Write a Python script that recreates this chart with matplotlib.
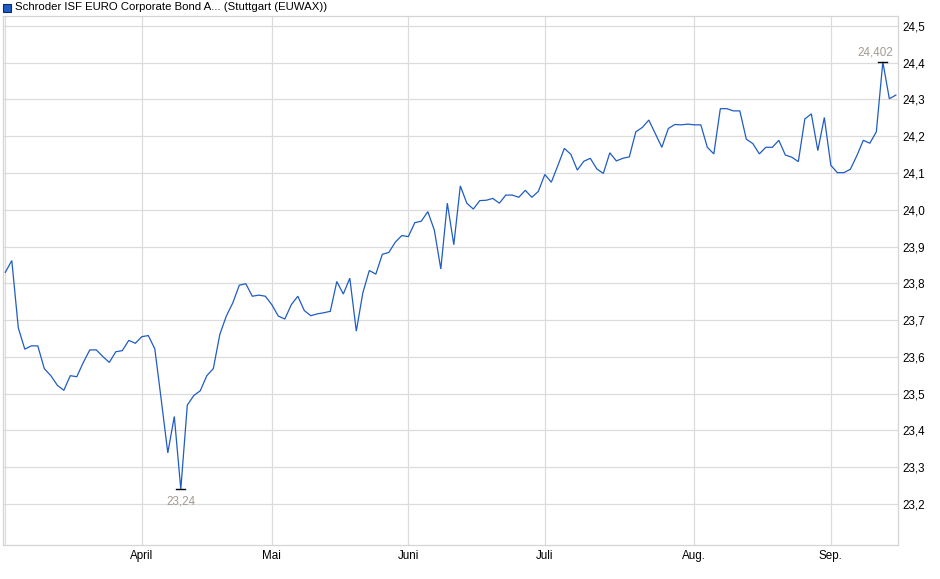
import matplotlib
matplotlib.use("Agg")
import matplotlib.pyplot as plt
from matplotlib.patches import Rectangle

plt.rcParams['font.family'] = ['Liberation Sans', 'DejaVu Sans']

title = "Schroder ISF EURO Corporate Bond A... (Stuttgart (EUWAX))"

prices = [
    23.830, 23.862, 23.679, 23.621, 23.630, 23.630, 23.568, 23.549, 23.523, 23.509,
    23.549, 23.546, 23.585, 23.619, 23.619, 23.601, 23.585, 23.614, 23.617, 23.645,
    23.637, 23.655, 23.658, 23.622, 23.482, 23.339, 23.438, 23.240, 23.469, 23.495,
    23.508, 23.549, 23.568, 23.661, 23.711, 23.747, 23.795, 23.799, 23.765, 23.768,
    23.765, 23.742, 23.711, 23.703, 23.742, 23.765, 23.726, 23.712, 23.717, 23.720,
    23.724, 23.805, 23.771, 23.814, 23.670, 23.774, 23.835, 23.825, 23.879, 23.884,
    23.912, 23.930, 23.927, 23.965, 23.969, 23.995, 23.945, 23.839, 24.018, 23.905,
    24.065, 24.018, 24.002, 24.025, 24.026, 24.031, 24.018, 24.040, 24.040, 24.034,
    24.053, 24.034, 24.050, 24.096, 24.075, 24.120, 24.167, 24.151, 24.108, 24.132,
    24.140, 24.111, 24.099, 24.155, 24.133, 24.140, 24.144, 24.212, 24.224, 24.244,
    24.207, 24.170, 24.221, 24.232, 24.231, 24.233, 24.231, 24.231, 24.170, 24.152,
    24.275, 24.275, 24.269, 24.269, 24.192, 24.180, 24.152, 24.170, 24.170, 24.189,
    24.149, 24.143, 24.131, 24.247, 24.261, 24.161, 24.251, 24.121, 24.101, 24.101,
    24.110, 24.147, 24.189, 24.181, 24.212, 24.402, 24.302, 24.312,
]

month_labels = ["April", "Mai", "Juni", "Juli", "Aug.", "Sep."]
month_idx = [21, 41, 62, 83, 106, 127]

y_ticks = [23.2, 23.3, 23.4, 23.5, 23.6, 23.7, 23.8, 23.9, 24.0, 24.1, 24.2, 24.3, 24.4, 24.5]
y_labels = ["23,2", "23,3", "23,4", "23,5", "23,6", "23,7", "23,8", "23,9",
            "24,0", "24,1", "24,2", "24,3", "24,4", "24,5"]

min_label = "23,24"
max_label = "24,402"

W, H = 940, 579
fig = plt.figure(figsize=(W / 100, H / 100), dpi=100)
left_px, right_px, top_px, bot_px = 3, 898.3, 16, 545
ax = fig.add_axes([left_px / W, 1 - bot_px / H, (right_px - left_px) / W, (bot_px - top_px) / H])

x = list(range(len(prices)))
grid_c = "#dcdcdc"
ax.plot(x, prices, color="#1f5cc4", lw=0.9, zorder=3, solid_joinstyle="miter")

ax.set_xlim(-0.354, 137.38)
ax.set_ylim(23.0885, 24.527)

ax.set_xticks(month_idx)
ax.set_xticklabels(month_labels)
ax.set_yticks(y_ticks)
ax.set_yticklabels(y_labels)
ax.yaxis.tick_right()
ax.tick_params(axis="both", length=0, labelsize=8.4, colors="black")
ax.tick_params(axis="y", pad=3)
ax.tick_params(axis="x", pad=3.5)
ax.grid(True, color=grid_c, lw=0.9, zorder=0)
ax.axvline(0, color=grid_c, lw=0.9, zorder=0)
for s in ax.spines.values():
    s.set_color("#d4d4d4")
    s.set_linewidth(0.9)

# min / max markers
imin = min(range(len(prices)), key=lambda i: prices[i])
imax = max(range(len(prices)), key=lambda i: prices[i])
ax.plot([imin - 0.7, imin + 0.7], [prices[imin]] * 2, color="black", lw=1.0, zorder=4)
ax.plot([imax - 0.7, imax + 0.7], [prices[imax]] * 2, color="black", lw=1.0, zorder=4)
ax.annotate(min_label, (imin, prices[imin]), xytext=(0, -4.5), textcoords="offset points",
            ha="center", va="top", fontsize=8.4, color="#a39a92", zorder=5)
ax.annotate(max_label, (imax - 1.1, prices[imax]), xytext=(0, 2.5), textcoords="offset points",
            ha="center", va="bottom", fontsize=8.4, color="#a39a92", zorder=5)

# legend-like title
fig.patches.append(Rectangle((3 / W, 1 - 11.5 / H), 8 / W, 8 / H, transform=fig.transFigure,
                             facecolor="#1f5cc4", edgecolor="#0a2a6a", lw=0.8))
fig.text(15 / W, 1 - 7.5 / H, title, fontsize=8.2, va="center", ha="left", color="black")

fig.savefig("out.png", dpi=100)
